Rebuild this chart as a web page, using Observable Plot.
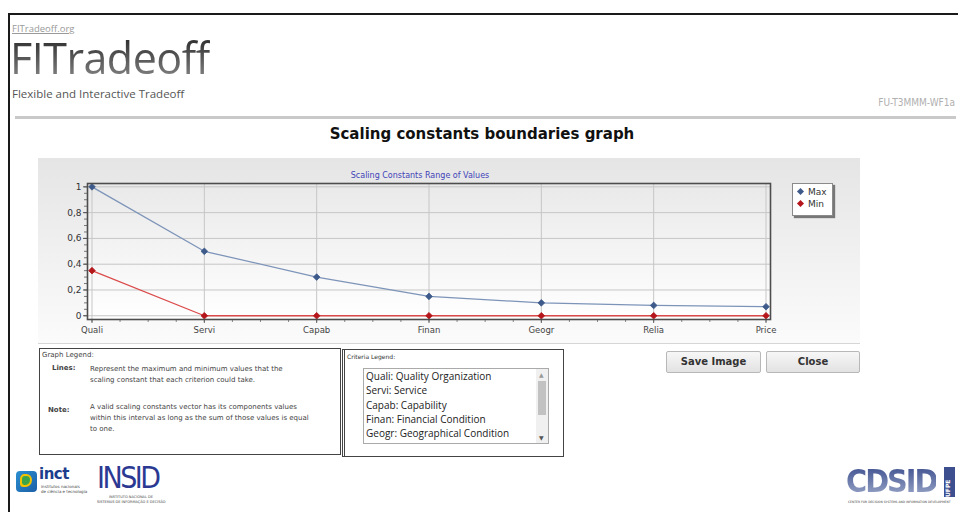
<!DOCTYPE html>
<html><head><meta charset="utf-8">
<script src="https://cdn.jsdelivr.net/npm/d3@7"></script>
<script src="https://cdn.jsdelivr.net/npm/@observablehq/plot@0.6"></script>
<style>
html,body{margin:0;padding:0;background:#fff;}
#page{position:relative;width:958px;height:512px;overflow:hidden;font-family:"DejaVu Sans",sans-serif;color:#333;}
.abs{position:absolute;white-space:nowrap;}
#frameTop{left:8px;top:13px;width:960px;height:2px;background:#1a1a1a;}
#frameLeft{left:8px;top:13px;width:2px;height:520px;background:#1a1a1a;}
#siteLink{left:12px;top:22px;font:9.5px/13px "Open Sans";color:#9a9a9a;text-decoration:underline;}
#brand{left:10px;top:38px;font:400 43px/40px "Open Sans";letter-spacing:-0.5px;background:linear-gradient(#2e2e2e,#8a8a8a);-webkit-background-clip:text;background-clip:text;color:transparent;padding-bottom:4px;}
#tagline{left:12px;top:86px;font:11.5px "Open Sans";color:#555;}
#code{right:3px;top:97px;font:10px "DejaVu Sans Condensed";color:#b0b0b0;}
#rule{left:15px;top:116px;width:941px;height:3px;background:#c9c9c9;}
#title{left:0;width:964px;top:125px;text-align:center;font:bold 15px "DejaVu Sans";color:#111;}
#chartWrap{left:38px;top:158px;width:822px;height:185px;border-bottom:1px solid #d6d6d6;}
#legend{left:792px;top:183px;width:39px;height:31px;background:#fff;border:1px solid #8a8a8a;box-shadow:2px 2px 1px #777;font:9px "DejaVu Sans";color:#333;}
#legend .it{position:absolute;left:5px;}
#legend .dm{display:inline-block;width:5px;height:5px;transform:rotate(45deg);margin-right:5px;vertical-align:1px;}
#gl{left:39px;top:348px;width:300px;height:105px;border:1px solid #444;font:7px "DejaVu Sans";color:#444;}
#gl .abs{position:absolute;}
#cl{left:342px;top:349px;width:218px;height:106px;border:1px solid #444;border-left:3px double #444;}
#clLabel{left:2px;top:3px;font:6px "DejaVu Sans";color:#333;}
#list{left:18px;top:18px;width:184px;height:74px;border:1px solid #aaa;overflow:hidden;background:#fff;}
#list .row{position:absolute;left:2px;font:10px "Open Sans";color:#222;}
#sb{right:0;top:0;width:12px;height:74px;background:#f0f0f0;}
#thumb{left:2px;top:12px;width:8px;height:34px;background:#c2c2c2;}
.btn{top:351px;height:20px;border:1px solid #b8b8b8;border-radius:2px;background:linear-gradient(#f7f7f7,#e2e2e2);font:bold 10px/20px "DejaVu Sans";color:#333;text-align:center;}
</style></head><body><div id="page">
<div id="frameTop" class="abs"></div><div id="frameLeft" class="abs"></div>
<div id="siteLink" class="abs">FITradeoff.org</div>
<div id="brand" class="abs">FITradeoff</div>
<div id="tagline" class="abs">Flexible and Interactive Tradeoff</div>
<div id="code" class="abs">FU-T3MMM-WF1a</div>
<div id="rule" class="abs"></div>
<div id="title" class="abs">Scaling constants boundaries graph</div>
<div id="chartWrap" class="abs"></div>
<div id="legend" class="abs"></div>
<div id="gl" class="abs">
  <div class="abs" style="left:2px;top:2px;">Graph Legend:</div>
  <div class="abs" style="left:12px;top:15px;font-weight:bold;">Lines:</div>
  <div class="abs" style="left:50px;top:15px;line-height:10.5px;">Represent the maximum and minimum values that the<br>scaling constant that each criterion could take.</div>
  <div class="abs" style="left:8px;top:57px;font-weight:bold;">Note:</div>
  <div class="abs" style="left:50px;top:53px;line-height:10.8px;">A valid scaling constants vector has its components values<br>within this interval as long as the sum of those values is equal<br>to one.</div>
</div>
<div id="cl" class="abs">
  <div id="clLabel" class="abs">Criteria Legend:</div>
  <div id="list" class="abs"><div id="sb" class="abs"><div id="thumb" class="abs"></div>
   <div class="abs" style="left:3px;top:2px;font-size:6px;color:#999;">&#9650;</div>
   <div class="abs" style="left:3px;bottom:2px;font-size:6px;color:#555;">&#9660;</div></div></div>
</div>
<div class="abs btn" style="left:666px;width:93px;">Save Image</div>
<div class="abs btn" style="left:766px;width:92px;">Close</div>
<!-- logos -->
<div class="abs" style="left:16px;top:471px;width:21px;height:21px;border-radius:4px;background:linear-gradient(135deg,#2a8fd0,#1c5fa8);"></div>
<div class="abs" style="left:20px;top:474px;width:12px;height:13px;border-radius:40% 50% 60% 30%;background:#f2c200;"></div>
<div class="abs" style="left:22px;top:476px;width:8px;height:9px;border-radius:40% 50% 60% 30%;background:#3aa548;"></div>
<div class="abs" style="left:39px;top:467px;font:bold 15px/1 'DejaVu Sans';color:#1d3e8c;letter-spacing:-0.5px;">inct</div>
<div class="abs" style="left:41px;top:484px;font:4px/5px 'DejaVu Sans';color:#444;">institutos nacionais<br>de ciência e tecnologia</div>
<div class="abs" style="left:97px;top:463px;font:30px/30px 'DejaVu Sans Condensed';color:#2b3993;letter-spacing:-2.5px;">INSID</div>
<div class="abs" style="left:97px;top:495px;font:3.5px/4.5px 'DejaVu Sans';color:#444;text-align:center;width:68px;">INSTITUTO NACIONAL DE<br>SISTEMAS DE INFORMAÇÃO E DECISÃO</div>
<div class="abs" style="left:846px;top:465px;font:bold 32px/32px 'DejaVu Sans Condensed';letter-spacing:-2px;background:linear-gradient(#3d4f8f,#9aa7c8);-webkit-background-clip:text;background-clip:text;color:transparent;">CDSID</div>
<div class="abs" style="left:944px;top:467px;width:11px;height:30px;background:#3d4f8f;"></div>
<div class="abs" style="left:944px;top:497px;width:11px;font:bold 6px 'DejaVu Sans';color:#fff;transform:rotate(-90deg);transform-origin:0 0;">UFPE</div>
<div class="abs" style="left:848px;top:500px;font:3px/4px 'DejaVu Sans';color:#444;">CENTER FOR DECISION SYSTEMS AND INFORMATION DEVELOPMENT</div>
</div>
<script>
// ---- data ----
const categories = ["Quali", "Servi", "Capab", "Finan", "Geogr", "Relia", "Price"];
const criteriaNames = ["Quality Organization", "Service", "Capability", "Financial Condition", "Geographical Condition", "Reliability", "Price"];
const maxValues = [1, 0.5, 0.3, 0.15, 0.1, 0.08, 0.07];
const minValues = [0.35, 0, 0, 0, 0, 0, 0];
const seriesNames = ["Max", "Min"];
const yTicks = [0, 0.2, 0.4, 0.6, 0.8, 1];
const chartTitle = "Scaling Constants Range of Values";

// ---- styles ----
const lineColor = {Max: "#7d94b9", Min: "#dc4b4b"};
const markColor = {Max: "#3d5a8a", Min: "#b4161b"};

const rows = categories.flatMap((c, i) => [
  {i, c, series: "Max", v: maxValues[i]},
  {i, c, series: "Min", v: minValues[i]}
]);
const idx = d3.range(categories.length);

const plot = Plot.plot({
  width: 822, height: 185,
  marginLeft: 49, marginRight: 90, marginTop: 25, marginBottom: 24,
  style: {fontFamily: "DejaVu Sans", fontSize: "9px", background: "linear-gradient(#e5e5e5, #fbfbfb)", overflow: "visible"},
  x: {type: "linear", domain: [-0.04, 6.04], label: null},
  y: {domain: [-0.029, 1.026], label: null},
  marks: [
    Plot.frame({fill: "url(#plotbg)"}),
    Plot.gridY(yTicks, {stroke: "#c6c6c6", strokeOpacity: 1}),
    Plot.gridX(idx, {stroke: "#c6c6c6", strokeOpacity: 1}),
    Plot.axisY(d3.range(0, 1.0001, 0.05), {tickSize: 3, text: null, stroke: "#777", label: null}),
    Plot.axisY(yTicks, {tickSize: 4, tickPadding: 2, stroke: "#555", fill: "#333", fontSize: 9,
      tickFormat: d => String(d).replace(".", ","), label: null}),
    Plot.axisX(d3.range(0, categories.length - 0.999, 0.25), {tickSize: 3, text: null, stroke: "#888", label: null}),
    Plot.axisX(idx, {tickSize: 4, tickPadding: 3, stroke: "#666", fill: "#444", fontSize: 8.5,
      tickFormat: i => categories[i], label: null}),
    ...seriesNames.map(s => Plot.line(rows.filter(d => d.series === s), {x: "i", y: "v", stroke: lineColor[s], strokeWidth: 1.3})),
    ...seriesNames.map(s => Plot.dot(rows.filter(d => d.series === s), {x: "i", y: "v", symbol: "diamond2", r: 3, fill: markColor[s], stroke: markColor[s], strokeWidth: 0.8})),
    Plot.frame({stroke: "#4d4d4d", strokeWidth: 1.6}),
    Plot.text([chartTitle], {frameAnchor: "top", dy: -11, dx: -9, fill: "#4242b8", fontSize: 8, fontFamily: "DejaVu Sans"})
  ]
});
const defs = d3.select(plot).insert("defs", ":first-child");
const g = defs.append("linearGradient").attr("id", "plotbg").attr("x1", 0).attr("y1", 0).attr("x2", 0).attr("y2", 1);
g.append("stop").attr("offset", 0).attr("stop-color", "#e9e9e9");
g.append("stop").attr("offset", 1).attr("stop-color", "#ffffff");
document.getElementById("chartWrap").appendChild(plot);

// legend
const leg = document.getElementById("legend");
seriesNames.forEach((s, k) => {
  const it = document.createElement("div");
  it.className = "it";
  it.style.top = (3 + k * 12) + "px";
  it.innerHTML = `<span class="dm" style="background:${markColor[s]}"></span>${s}`;
  leg.appendChild(it);
});

// criteria list
const list = document.getElementById("list");
categories.forEach((c, k) => {
  const r = document.createElement("div");
  r.className = "row";
  r.style.top = (0 + k * 14.3) + "px";
  r.textContent = `${c}: ${criteriaNames[k]}`;
  list.appendChild(r);
});
</script>
</body></html>
